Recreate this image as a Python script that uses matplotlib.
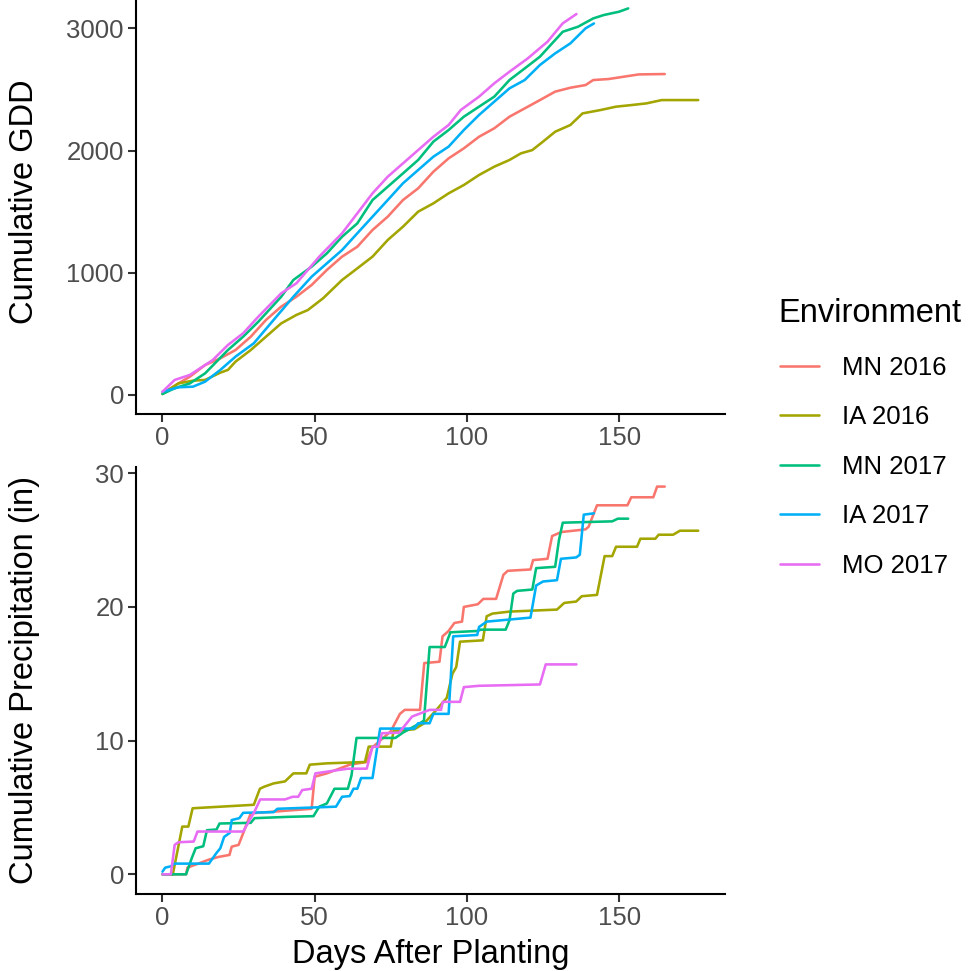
import matplotlib
matplotlib.use("Agg")
import matplotlib.pyplot as plt

# environments and their ggplot hue colours
envs = ["MN 2016", "IA 2016", "MN 2017", "IA 2017", "MO 2017"]
colors = ["#F8766D", "#A3A500", "#00BF7D", "#00B0F6", "#E76BF3"]

# cumulative GDD
mn16_gdd_days = [0, 5.25, 9, 14, 19, 24, 29, 34, 39, 44, 49, 54, 59, 64, 69, 74, 79, 84, 89, 94,
                 99, 104, 109, 114, 119, 124, 129, 134, 139, 141.5, 146.5, 151.5, 156.5, 165]
mn16_gdd = [14, 95, 150, 245, 300, 368, 477, 614, 723, 804, 900, 1023, 1132, 1213, 1350, 1459, 1595,
            1691, 1827, 1936, 2018, 2113, 2182, 2277, 2345, 2413, 2482, 2514, 2536, 2577, 2585, 2604,
            2623, 2626]
ia16_gdd_days = [0, 5.25, 10, 14, 19, 21.5, 24, 29, 34, 39, 44, 47.75, 52.75, 59, 64, 69, 74, 79, 84,
                 89, 94, 99, 104, 109, 114, 117.75, 121.5, 125, 129, 134, 138, 144, 149, 154, 159,
                 164, 176]
ia16_gdd = [8, 95, 117, 123, 183, 205, 273, 368, 477, 586, 655, 695, 791, 941, 1036, 1132, 1268, 1377,
            1500, 1568, 1650, 1718, 1800, 1868, 1923, 1977, 2004, 2073, 2154, 2209, 2304, 2332, 2359,
            2372, 2386, 2413, 2413]
mn17_gdd_days = [0, 4, 9, 14, 21.5, 26.5, 31.5, 39, 43, 49, 54, 59, 64, 69, 74, 79, 84, 89, 94, 99,
                 104, 109, 114, 119, 124, 128, 131.5, 136.5, 141.5, 145, 150, 153]
mn17_gdd = [8, 55, 95, 177, 368, 477, 600, 804, 941, 1050, 1159, 1295, 1404, 1595, 1704, 1813, 1923,
            2073, 2168, 2277, 2359, 2441, 2577, 2672, 2768, 2877, 2972, 3013, 3081, 3109, 3136, 3163]
ia17_gdd_days = [0, 5.25, 10, 14, 19, 24, 30, 36.5, 43, 49, 54, 59, 64, 69, 74, 79, 84, 89, 94, 99,
                 104, 109, 114, 119, 124, 129, 134, 139, 141.75]
ia17_gdd = [27, 63, 68, 109, 205, 314, 423, 614, 804, 968, 1077, 1186, 1323, 1459, 1595, 1732, 1841,
            1950, 2032, 2168, 2291, 2400, 2509, 2577, 2700, 2795, 2877, 3000, 3040]
mo17_gdd_days = [0, 4, 9, 16.5, 21.5, 26.5, 31.5, 39, 44, 51.5, 59, 64, 69, 74, 79, 84, 89, 94, 98,
                 104, 109, 114, 120, 126.5, 131.5, 136]
mo17_gdd = [27, 123, 164, 286, 409, 505, 641, 832, 914, 1132, 1323, 1486, 1650, 1786, 1895, 2004, 2113,
            2209, 2332, 2441, 2550, 2645, 2754, 2891, 3041, 3117]

# cumulative precipitation in inches
mn16_pr_days = [0, 7.75, 8.2, 15.25, 18.4, 22, 22.75, 25, 26.5, 29, 49, 50, 54, 61.5, 67, 69, 75, 78,
                79.6, 84.6, 86, 91, 92, 94, 95.9, 98.4, 99, 103.6, 105.4, 109.6, 112, 113.4, 120.9,
                121.75, 126.5, 128, 131, 139, 140, 142.75, 152.75, 154, 161.25, 162.5, 165]
mn16_pr = [0, 0, 0.5, 1.1, 1.3, 1.45, 2.07, 2.2, 3.07, 4.56, 4.9, 7.3, 7.55, 8.2, 8.4, 9.5, 10.7, 12.0,
           12.3, 12.3, 15.8, 15.9, 17.8, 18.2, 18.8, 18.9, 20.0, 20.2, 20.6, 20.6, 22.4, 22.7, 22.8,
           23.5, 23.6, 25.3, 25.6, 25.8, 26.0, 27.6, 27.6, 28.2, 28.2, 29.0, 29.0]
ia16_pr_days = [0, 3.4, 6.5, 8.5, 9.9, 30, 32, 33.4, 36.5, 39, 40.25, 43, 47.25, 48.4, 54, 66.5, 67.75,
                75, 75.9, 82.75, 86, 90, 93.4, 95.25, 96.5, 97.75, 105.25, 106.5, 108.4, 114, 129.6,
                132, 135.9, 137.75, 142.75, 145.25, 147.75, 149, 155.9, 157, 161.9, 163, 167.75, 170,
                176]
ia16_pr = [0, 0, 3.57, 3.57, 4.94, 5.2, 6.4, 6.55, 6.8, 6.9, 6.95, 7.55, 7.55, 8.2, 8.3, 8.4, 9.55,
           9.55, 10.7, 10.85, 11.3, 12.3, 13.2, 15.0, 15.5, 17.4, 17.5, 19.3, 19.5, 19.65, 19.8, 20.3,
           20.4, 20.8, 20.9, 23.8, 23.8, 24.5, 24.5, 25.1, 25.1, 25.4, 25.4, 25.7, 25.7]
mn17_pr_days = [0, 7.75, 9.6, 10.9, 13.4, 14.6, 17.75, 18.75, 29, 30.25, 41.5, 49.6, 51.5, 54, 56.5,
                60.9, 62.1, 63.75, 76.5, 79, 84.6, 85.9, 87.75, 92.75, 94.6, 103.4, 104.6, 112.75, 114,
                115.25, 116.5, 121.5, 122.75, 129, 130.25, 131.5, 147.75, 149.6, 153]
mn17_pr = [0, 0, 1.2, 1.95, 2.1, 3.3, 3.35, 3.8, 3.85, 4.2, 4.3, 4.35, 5.06, 5.3, 6.4, 6.4, 7.4, 10.2,
           10.2, 10.6, 11.3, 11.5, 17.0, 17.0, 18.1, 18.2, 18.3, 18.3, 19.0, 21.0, 21.2, 21.3, 22.9,
           23.0, 25.0, 26.3, 26.4, 26.6, 26.6]
ia17_pr_days = [0, 0.9, 2.75, 4, 15.25, 17.75, 19, 20.25, 22.1, 22.75, 25.25, 26.5, 36.5, 37.75, 57,
                59, 61.5, 62.75, 64, 65.25, 69, 71.5, 82.75, 84, 87.75, 89, 94, 95.5, 103.4, 104,
                106.5, 120.9, 122.75, 125, 129.6, 130.9, 135.9, 137.1, 138.4, 141.75]
ia17_pr = [0.2, 0.5, 0.6, 0.8, 0.8, 1.6, 1.95, 2.8, 3.1, 4.06, 4.2, 4.6, 4.65, 4.9, 5.06, 5.8, 5.85,
           6.4, 6.4, 7.2, 7.2, 10.9, 10.9, 11.3, 11.3, 12.0, 12.0, 17.8, 17.9, 18.5, 18.9, 19.2, 21.6,
           21.9, 22.0, 23.6, 23.7, 23.9, 26.9, 27.0]
mo17_pr_days = [0, 2.75, 4, 5.25, 10.25, 11.5, 26.5, 30.25, 32.1, 40.25, 42.75, 44.6, 45.9, 49, 50.25,
                57.75, 60.9, 67.1, 69, 70.9, 72.1, 77.75, 82, 87.75, 91.5, 92.1, 97.75, 99, 104, 124,
                125.9, 136]
mo17_pr = [0, 0, 2.2, 2.4, 2.45, 3.2, 3.2, 4.7, 5.6, 5.6, 5.8, 5.8, 6.3, 6.4, 7.55, 7.8, 7.9, 7.9,
           9.55, 9.55, 10.55, 10.6, 11.8, 12.3, 12.3, 12.9, 12.9, 14.0, 14.1, 14.2, 15.7, 15.7]

gdd_series = [(mn16_gdd_days, mn16_gdd), (ia16_gdd_days, ia16_gdd), (mn17_gdd_days, mn17_gdd),
              (ia17_gdd_days, ia17_gdd), (mo17_gdd_days, mo17_gdd)]
pr_series = [(mn16_pr_days, mn16_pr), (ia16_pr_days, ia16_pr), (mn17_pr_days, mn17_pr),
             (ia17_pr_days, ia17_pr), (mo17_pr_days, mo17_pr)]

plt.rcParams["font.family"] = ["Liberation Sans", "DejaVu Sans"]

W, H = 970, 971
fig = plt.figure(figsize=(W / 100, H / 100), dpi=100)

# axes placed in pixel units (left, top, right, bottom)
def px_axes(l, t, r, b):
    return fig.add_axes([l / W, 1 - b / H, (r - l) / W, (b - t) / H])

ax1 = px_axes(135.7, -10.9, 725, 414.3)
ax2 = px_axes(135.7, 467.2, 725, 893.7)

lines = []
for (d, v), c in zip(gdd_series, colors):
    lines.append(ax1.plot(d, v, color=c, lw=1.85, solid_joinstyle="round",
                          solid_capstyle="round")[0])
for (d, v), c in zip(pr_series, colors):
    ax2.plot(d, v, color=c, lw=1.85, solid_joinstyle="round", solid_capstyle="round")

ax1.set_ylim(-158, 3321)
ax1.set_yticks([0, 1000, 2000, 3000])
ax2.set_ylim(-1.45, 30.45)
ax2.set_yticks([0, 10, 20, 30])

for ax in (ax1, ax2):
    ax.set_xlim(-8.8, 184.8)
    ax.set_xticks([0, 50, 100, 150])
    for s in ("top", "right"):
        ax.spines[s].set_visible(False)
    for s in ("left", "bottom"):
        ax.spines[s].set_linewidth(1.5)
        ax.spines[s].set_color("black")
    ax.tick_params(axis="both", length=5.5, width=1.5, color="#333333",
                   labelsize=18.5, labelcolor="#4D4D4D", pad=3)

ax1.set_ylabel("Cumulative GDD", fontsize=23.5)
ax2.set_ylabel("Cumulative Precipitation (in)", fontsize=23.5)
ax2.set_xlabel("Days After Planting", fontsize=23.5, labelpad=7)
for ax in (ax1, ax2):
    ax.yaxis.set_label_coords(-0.1624, 0.5)

# legend: title as its own text, entries below it
fig.text(778 / W, 1 - 313 / H, "Environment", fontsize=23.5, ha="left", va="center")
fig.legend(lines, envs, loc="upper left", bbox_to_anchor=(780 / W, 1 - 356 / H),
           frameon=False, fontsize=18.5, borderpad=0, borderaxespad=0, handlelength=1.5,
           handletextpad=0.9, labelspacing=0.99)

fig.savefig("out.png", dpi=100)
